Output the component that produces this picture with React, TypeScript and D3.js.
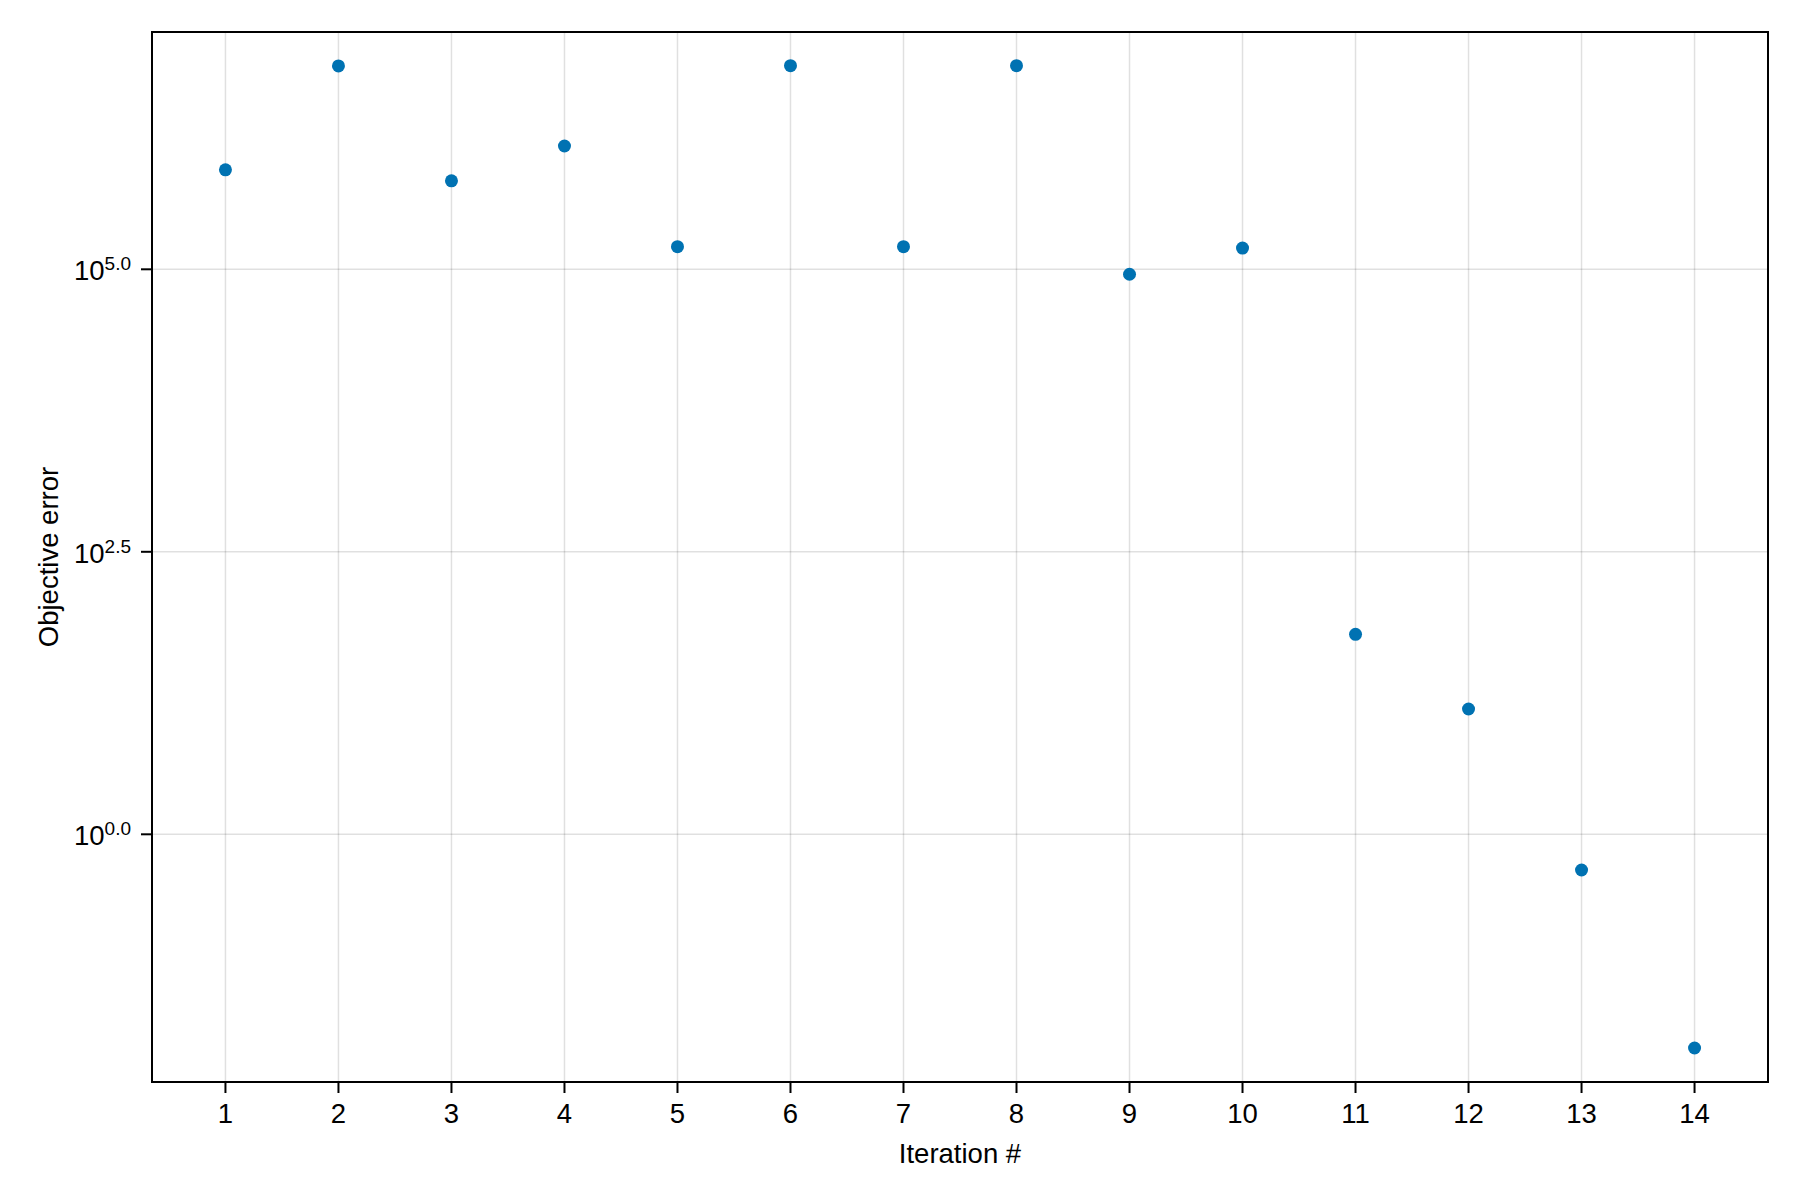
import React, { useEffect, useRef } from 'react';
import * as d3 from 'd3';

// Iteration number and objective error
const iterations = [1, 2, 3, 4, 5, 6, 7, 8, 9, 10, 11, 12, 13, 14];
const errors = [
  7.59e5, 6.31e6, 6.07e5, 1.233e6, 1.585e5, 6.34e6, 1.585e5,
  6.34e6, 9.04e4, 1.542e5, 58.9, 12.85, 0.483, 0.01285,
];
const yTickExponents = [0, 2.5, 5];

const WIDTH = 1800;
const HEIGHT = 1200;
const FONT = '"Liberation Sans", "DejaVu Sans", Arial, sans-serif';

const App: React.FC = () => {
  const svgRef = useRef<SVGSVGElement>(null);

  useEffect(() => {
    if (!svgRef.current) return;

    const svg = d3.select(svgRef.current);
    svg.selectAll('*').remove();

    const left = 152, right = 1768, top = 32, bottom = 1082;

    const xScale = d3.scaleLinear().domain([0.35, 14.65]).range([left, right]);
    const yScale = d3.scaleLog()
      .domain([Math.pow(10, -2.192), Math.pow(10, 7.1)])
      .range([bottom, top]);

    svg.append('rect')
      .attr('width', WIDTH)
      .attr('height', HEIGHT)
      .attr('fill', 'white');

    // Grid
    const grid = svg.append('g').attr('class', 'grid');
    grid.selectAll('line.vx')
      .data(iterations)
      .enter().append('line')
      .attr('class', 'vx')
      .attr('x1', d => xScale(d))
      .attr('x2', d => xScale(d))
      .attr('y1', top)
      .attr('y2', bottom)
      .attr('stroke', 'rgba(0,0,0,0.12)')
      .attr('stroke-width', 1.5);

    grid.selectAll('line.hy')
      .data(yTickExponents)
      .enter().append('line')
      .attr('class', 'hy')
      .attr('x1', left)
      .attr('x2', right)
      .attr('y1', d => yScale(Math.pow(10, d)))
      .attr('y2', d => yScale(Math.pow(10, d)))
      .attr('stroke', 'rgba(0,0,0,0.12)')
      .attr('stroke-width', 1.5);

    // Points
    svg.append('g')
      .attr('class', 'points')
      .selectAll('circle')
      .data(iterations)
      .enter().append('circle')
      .attr('cx', d => xScale(d))
      .attr('cy', (d, i) => yScale(errors[i]))
      .attr('r', 6.5)
      .attr('fill', '#0072B2');

    // Frame
    svg.append('rect')
      .attr('x', left)
      .attr('y', top)
      .attr('width', right - left)
      .attr('height', bottom - top)
      .attr('fill', 'none')
      .attr('stroke', 'black')
      .attr('stroke-width', 2);

    // X axis ticks + labels
    const xAxis = svg.append('g').attr('class', 'x-axis');
    xAxis.selectAll('line')
      .data(iterations)
      .enter().append('line')
      .attr('x1', d => xScale(d))
      .attr('x2', d => xScale(d))
      .attr('y1', bottom)
      .attr('y2', bottom + 11)
      .attr('stroke', 'black')
      .attr('stroke-width', 2);
    xAxis.selectAll('text')
      .data(iterations)
      .enter().append('text')
      .attr('x', d => xScale(d))
      .attr('y', 1123)
      .attr('text-anchor', 'middle')
      .attr('font-family', FONT)
      .attr('font-size', 27.5)
      .attr('fill', 'black')
      .text(d => String(d));

    // Y axis ticks + labels (10^x with superscript)
    const yAxis = svg.append('g').attr('class', 'y-axis');
    yAxis.selectAll('line')
      .data(yTickExponents)
      .enter().append('line')
      .attr('x1', left - 11)
      .attr('x2', left)
      .attr('y1', d => yScale(Math.pow(10, d)))
      .attr('y2', d => yScale(Math.pow(10, d)))
      .attr('stroke', 'black')
      .attr('stroke-width', 2);
    const yLabels = yAxis.selectAll('text')
      .data(yTickExponents)
      .enter().append('text')
      .attr('x', 131)
      .attr('y', d => yScale(Math.pow(10, d)) + 11)
      .attr('text-anchor', 'end')
      .attr('font-family', FONT)
      .attr('font-size', 27.5)
      .attr('fill', 'black');
    yLabels.append('tspan').text('10');
    yLabels.append('tspan')
      .attr('dy', -10)
      .attr('font-size', 19)
      .text(d => d3.format('.1f')(d));

    // Axis titles
    svg.append('text')
      .attr('x', (left + right) / 2)
      .attr('y', 1163)
      .attr('text-anchor', 'middle')
      .attr('font-family', FONT)
      .attr('font-size', 27.5)
      .attr('fill', 'black')
      .text('Iteration #');

    svg.append('text')
      .attr('transform', `translate(58, ${(top + bottom) / 2}) rotate(-90)`)
      .attr('text-anchor', 'middle')
      .attr('font-family', FONT)
      .attr('font-size', 27.5)
      .attr('fill', 'black')
      .text('Objective error');
  }, []);

  return (
    <svg
      ref={svgRef}
      width={WIDTH}
      height={HEIGHT}
      style={{ position: 'absolute', left: 0, top: 0, display: 'block' }}
    />
  );
};

export default App;
